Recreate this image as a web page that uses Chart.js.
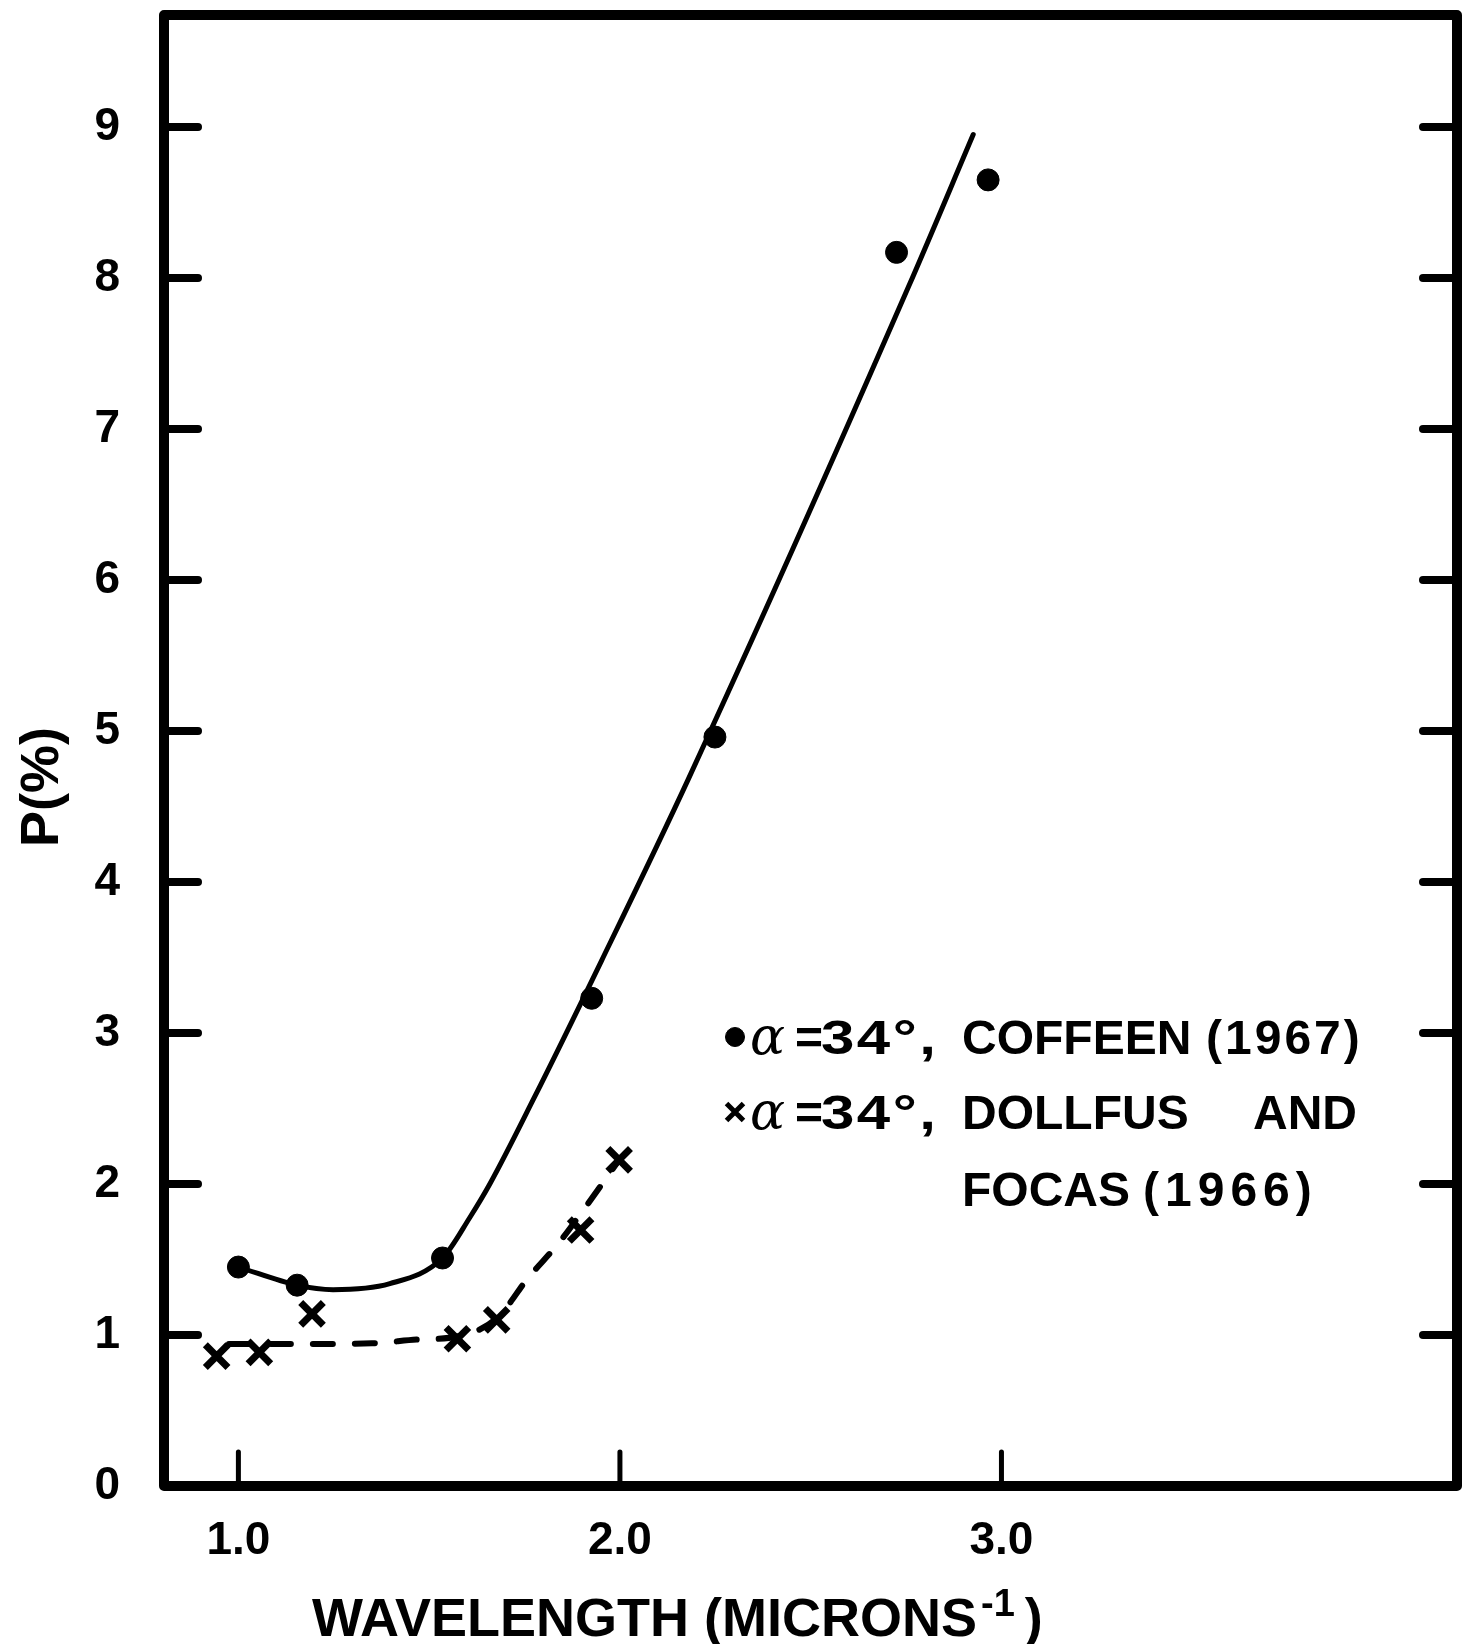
<!DOCTYPE html>
<html lang="en">
<head>
<meta charset="UTF-8">
<title>P(%) vs wavelength</title>
<script src="https://cdn.jsdelivr.net/npm/chart.js"></script>
<style>
  html, body { margin: 0; padding: 0; background: #fff; }
  #wrap { width: 1470px; height: 1644px; position: relative; }
</style>
</head>
<body>
<div id="wrap"><canvas id="polChart"></canvas></div>
<script>
// Coffeen (1967), alpha = 34 deg
const coffeenX = [1.00, 1.154, 1.535, 1.926, 2.249, 2.725, 2.965];
const coffeenP = [1.45, 1.33, 1.51, 3.23, 4.96, 8.17, 8.65];

// Dollfus and Focas (1966), alpha = 34 deg
const dollfusX = [0.943, 1.055, 1.193, 1.574, 1.677, 1.897, 1.998];
const dollfusP = [0.86, 0.885, 1.14, 0.975, 1.10, 1.695, 2.16];

// smooth curves drawn through each set
const solidCurveX = [1.00, 1.154, 1.248, 1.397, 1.535, 1.607, 1.659, 1.773, 1.952, 2.179, 2.756, 2.926];
const solidCurveP = [1.45, 1.33, 1.30, 1.34, 1.51, 1.78, 2.00, 2.56, 3.48, 4.68, 7.94, 8.95];
const dashedCurveX = [0.975, 1.20, 1.35, 1.47, 1.574, 1.677, 1.76, 1.84, 1.905, 1.998];
const dashedCurveP = [0.94, 0.94, 0.945, 0.97, 0.99, 1.11, 1.38, 1.61, 1.83, 2.16];

const xTickValues = [1, 2, 3];
const yTickValues = [0, 1, 2, 3, 4, 5, 6, 7, 8, 9];

const xTitle = ['WAVELENGTH (MICRONS', '-1', ')'];
const yTitle = 'P(%)';
const legendAlpha = 'α';
const legendEq = '=';
const legendAngle = '34°,';
const legendNames = [['COFFEEN', '(1967)'], ['DOLLFUS', 'AND'], ['FOCAS', '(1966)']];

const INK = '#000';
const FONT = '"Liberation Sans", Arial, sans-serif';

const pairs = (xs, ys) => xs.map((x, i) => ({ x: x, y: ys[i] }));

// box around the plot with short inward ticks
const framePlugin = {
  id: 'frame',
  afterDatasetsDraw(chart) {
    const { ctx, chartArea: a, scales } = chart;
    const seg = (x1, y1, x2, y2) => {
      ctx.beginPath(); ctx.moveTo(x1, y1); ctx.lineTo(x2, y2); ctx.stroke();
    };
    ctx.save();
    ctx.strokeStyle = INK;
    ctx.lineCap = 'round';
    ctx.lineJoin = 'round';
    ctx.lineWidth = 8;
    yTickValues.slice(1).forEach(v => {
      const py = scales.y.getPixelForValue(v);
      seg(a.left, py, a.left + 34, py);
      seg(a.right - 34, py, a.right, py);
    });
    ctx.lineWidth = 5;
    xTickValues.forEach(v => {
      const px = scales.x.getPixelForValue(v);
      seg(px, a.bottom, px, a.bottom - 34);
    });
    ctx.lineWidth = 10;
    ctx.strokeRect(a.left, a.top, a.right - a.left, a.bottom - a.top);
    ctx.restore();
  }
};

// axis titles and the key inside the plot
const labelsPlugin = {
  id: 'labels',
  afterDraw(chart) {
    const ctx = chart.ctx;
    ctx.save();
    ctx.fillStyle = INK;
    ctx.strokeStyle = INK;
    ctx.textBaseline = 'alphabetic';
    ctx.textAlign = 'left';

    // x title with superscript
    let tx = 312;
    ctx.font = 'bold 54px ' + FONT;
    ctx.fillText(xTitle[0], tx, 1636);
    tx += ctx.measureText(xTitle[0]).width + 4;
    ctx.font = 'bold 38px ' + FONT;
    ctx.fillText(xTitle[1], tx, 1616);
    tx += ctx.measureText(xTitle[1]).width + 10;
    ctx.font = 'bold 54px ' + FONT;
    ctx.fillText(xTitle[2], tx, 1636);

    // y title
    ctx.save();
    ctx.translate(43, 787);
    ctx.rotate(-Math.PI / 2);
    ctx.textAlign = 'center';
    ctx.textBaseline = 'middle';
    ctx.font = 'bold 54px ' + FONT;
    ctx.fillText(yTitle, 0, 0);
    ctx.restore();

    // key
    const rows = [1054, 1129, 1206];
    [chart.data.datasets[0], chart.data.datasets[1]].forEach((ds, i) => {
      const cy = rows[i] - 17;
      ctx.lineWidth = i === 0 ? 1 : 5;
      Chart.helpers.drawPoint(ctx, {
        pointStyle: ds.pointStyle,
        radius: i === 0 ? 9.5 : 12,
        rotation: 0,
        borderWidth: ctx.lineWidth
      }, 735, cy);
      ctx.font = 'italic 52px "DejaVu Serif", serif';
      ctx.fillText(legendAlpha, 750, rows[i]);
      ctx.font = 'bold 48px ' + FONT;
      ctx.fillText(legendEq, 795, rows[i]);
      // wide lettering for the angle
      ctx.save();
      ctx.translate(821, rows[i]);
      ctx.scale(1.25, 1);
      ctx.letterSpacing = '2px';
      ctx.fillText(legendAngle, 0, 0);
      ctx.restore();
    });
    ctx.font = 'bold 48px ' + FONT;
    ctx.fillText(legendNames[0][0], 962, rows[0]);
    ctx.fillText(legendNames[1][0], 962, rows[1]);
    ctx.fillText(legendNames[1][1], 1253, rows[1]);
    ctx.fillText(legendNames[2][0], 962, rows[2]);
    ctx.letterSpacing = '3px';
    ctx.fillText(legendNames[0][1], 1206, rows[0]);
    ctx.letterSpacing = '6px';
    ctx.fillText(legendNames[2][1], 1143, rows[2]);
    ctx.letterSpacing = '0px';
    ctx.restore();
  }
};

Chart.defaults.color = INK;
Chart.defaults.font.family = FONT;

new Chart(document.getElementById('polChart'), {
  type: 'scatter',
  data: {
    datasets: [
      {
        label: 'COFFEEN (1967)',
        data: pairs(coffeenX, coffeenP),
        pointStyle: 'circle',
        pointRadius: 11,
        backgroundColor: INK,
        borderColor: INK,
        borderWidth: 1
      },
      {
        label: 'DOLLFUS AND FOCAS (1966)',
        data: pairs(dollfusX, dollfusP),
        pointStyle: 'crossRot',
        pointRadius: 16,
        pointBorderWidth: 7,
        backgroundColor: INK,
        borderColor: INK
      },
      {
        type: 'line',
        data: pairs(solidCurveX, solidCurveP),
        borderColor: INK,
        borderWidth: 5,
        borderCapStyle: 'round',
        pointRadius: 0,
        fill: false,
        cubicInterpolationMode: 'monotone'
      },
      {
        type: 'line',
        data: pairs(dashedCurveX, dashedCurveP),
        borderColor: INK,
        borderWidth: 6,
        borderDash: [20, 22],
        borderCapStyle: 'round',
        pointRadius: 0,
        fill: false,
        cubicInterpolationMode: 'monotone'
      }
    ]
  },
  options: {
    responsive: true,
    maintainAspectRatio: false,
    animation: false,
    layout: { autoPadding: false, padding: { top: 15, right: 13, left: 0, bottom: 0 } },
    plugins: { legend: { display: false }, tooltip: { enabled: false } },
    scales: {
      x: {
        type: 'linear',
        min: 0.805,
        max: 4.194,
        grid: { display: false, drawTicks: false },
        border: { display: false },
        afterBuildTicks: s => { s.ticks = xTickValues.map(v => ({ value: v })); },
        afterFit: s => {
          s.height = 158;
          s.paddingLeft = 0;
          s.paddingRight = 0;
        },
        ticks: {
          padding: 28,
          maxRotation: 0,
          font: { size: 46, weight: 'bold' },
          callback: v => v.toFixed(1)
        }
      },
      y: {
        type: 'linear',
        min: 0,
        max: 9.742,
        grid: { display: false, drawTicks: false },
        border: { display: false },
        afterBuildTicks: s => { s.ticks = yTickValues.map(v => ({ value: v })); },
        afterFit: s => {
          s.width = 164;
          s.paddingTop = 0;
          s.paddingBottom = 0;
        },
        ticks: {
          padding: 44,
          font: { size: 46, weight: 'bold' },
          callback: v => String(v)
        }
      }
    }
  },
  plugins: [framePlugin, labelsPlugin]
});
</script>
</body>
</html>
